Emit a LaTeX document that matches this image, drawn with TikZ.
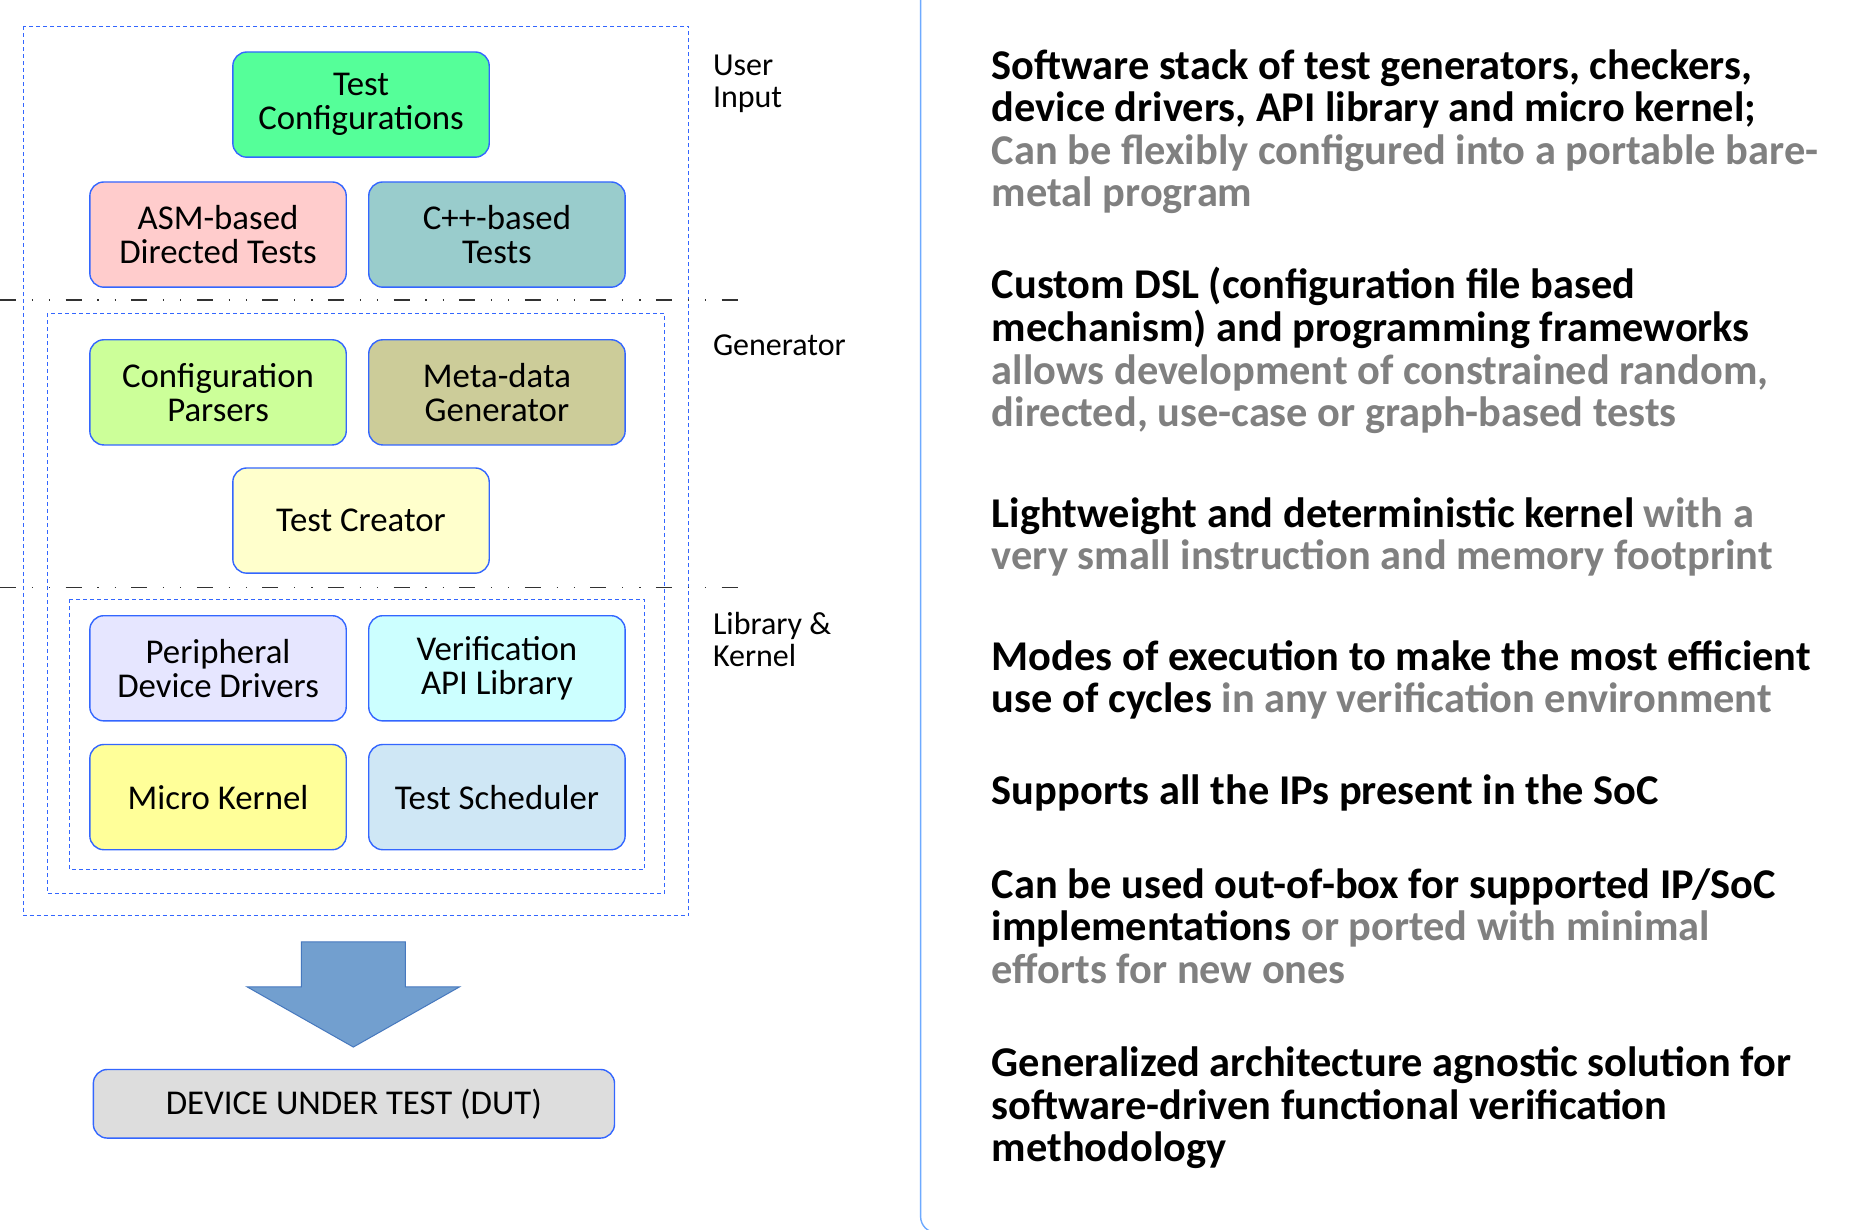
\documentclass[tikz,border=0pt]{standalone}
\usepackage{fontspec}
\setmainfont{Carlito}
\usetikzlibrary{positioning}

\definecolor{edgeblue}{RGB}{51,102,255}
\definecolor{sepblue}{RGB}{110,170,255}
\definecolor{arrowfill}{RGB}{114,159,207}
\definecolor{arrowedge}{RGB}{70,120,190}
\definecolor{txtgray}{RGB}{128,128,128}
\definecolor{tiergray}{RGB}{50,50,50}
\definecolor{cfgfill}{RGB}{85,255,153}
\definecolor{asmfill}{RGB}{255,204,204}
\definecolor{cppfill}{RGB}{153,204,204}
\definecolor{parsefill}{RGB}{204,255,153}
\definecolor{metafill}{RGB}{204,204,153}
\definecolor{creatfill}{RGB}{255,255,204}
\definecolor{periphfill}{RGB}{230,230,255}
\definecolor{apifill}{RGB}{204,255,255}
\definecolor{kernfill}{RGB}{255,255,153}
\definecolor{schedfill}{RGB}{207,231,245}
\definecolor{dutfill}{RGB}{221,221,221}

\begin{document}
\begin{tikzpicture}[
  x=0.5909pt,
  y=-0.5909pt,
  box/.style={draw=edgeblue, line width=0.7pt, rounded corners=7pt,
    minimum width=128.2pt, minimum height=52.6pt, align=center,
    font=\fontsize{17.4}{17}\selectfont},
  group/.style={draw=edgeblue, line width=0.5pt, dash pattern=on 2pt off 1.5pt},
  tier/.style={draw=tiergray, line width=0.7pt,
    dash pattern=on 8pt off 7.9pt on 0.6pt off 8pt on 0.6pt off 7.7pt},
  layer/.style={anchor=base west, align=left, inner sep=0pt,
    font=\fontsize{16}{16}\selectfont},
  note/.style={anchor=base west, align=left, inner sep=0pt,
    font=\fontsize{21.2}{21.3}\selectfont\bfseries},
]
\fill[white] (0,0) rectangle (1568,1040);
\useasboundingbox (0,0) rectangle (1568,1040);

% dashed group frames
\draw[group] (20,22) rectangle (583,775);
\draw[group] (40,265) rectangle (562,756);
\draw[group] (59,507) rectangle (545,736);

% tier separators
\draw[tier] (0,254) -- (632,254);
\draw[tier] (0,497) -- (632,497);

% user input
\node[box, fill=cfgfill] (testcfg) at (305.5,88.5) {Test\\Configurations};
\node[box, fill=asmfill] (asmtests) at (184.5,198.5) {ASM-based\\Directed Tests};
\node[box, fill=cppfill] (cpptests) at (420.5,198.5) {C++-based\\Tests};

% generator
\node[box, fill=parsefill] (parsers) at (184.5,332) {Configuration\\Parsers};
\node[box, fill=metafill] (metagen) at (420.5,332) {Meta-data\\Generator};
\node[box, fill=creatfill] (creator) at (305.5,440.5) {Test Creator};

% library & kernel
\node[box, fill=periphfill] (drivers) at (184.5,565.5) {Peripheral\\Device Drivers};
\node[box, fill=apifill] (apilib) at (420.5,565.5) {Verification\\API Library};
\node[box, fill=kernfill] (kernel) at (184.5,674.5) {Micro Kernel};
\node[box, fill=schedfill] (sched) at (420.5,674.5) {Test Scheduler};

% output
\draw[fill=arrowfill, draw=arrowedge, line width=0.5pt]
  (255,797) -- (343,797) -- (343,835) -- (389,835) -- (299,886)
  -- (209,835) -- (255,835) -- cycle;
\node[box, fill=dutfill, minimum width=260.6pt, minimum height=34.3pt] (dut)
  at (299.5,934) {DEVICE UNDER TEST (DUT)};

% layer labels (anchored at last baseline)
\node[layer] (lbluser) at (603,91) {User\\Input};
\node[layer] (lblgen) at (603,301) {Generator};
\node[layer] (lbllib) at (603,564) {Library \&\\Kernel};

% right panel
\draw[sepblue, line width=0.7pt, rounded corners=8pt]
  (779,-5) -- (779,1043) -- (830,1043);

\node[note] (feat1) at (839,175) {Software stack of test generators, checkers,\\
  device drivers, API library and micro kernel;\\
  {\color{txtgray}Can be flexibly configured into a portable bare-}\\
  {\color{txtgray}metal program}};
\node[note] (feat2) at (839,361) {Custom DSL (configuration file based\\
  mechanism) and programming frameworks\\
  {\color{txtgray}allows development of constrained random,}\\
  {\color{txtgray}directed, use-case or graph-based tests}};
\node[note] (feat3) at (839,482) {Lightweight and deterministic kernel {\color{txtgray}with a}\\
  {\color{txtgray}very small instruction and memory footprint}};
\node[note] (feat4) at (839,603) {Modes of execution to make the most efficient\\
  use of cycles {\color{txtgray}in any verification environment}};
\node[note] (feat5) at (839,681) {Supports all the IPs present in the SoC};
\node[note] (feat6) at (839,832) {Can be used out-of-box for supported IP/SoC\\
  implementations {\color{txtgray}or ported with minimal}\\
  {\color{txtgray}efforts for new ones}};
\node[note] (feat7) at (839,983) {Generalized architecture agnostic solution for\\
  software-driven functional verification\\
  methodology};
\end{tikzpicture}
\end{document}
